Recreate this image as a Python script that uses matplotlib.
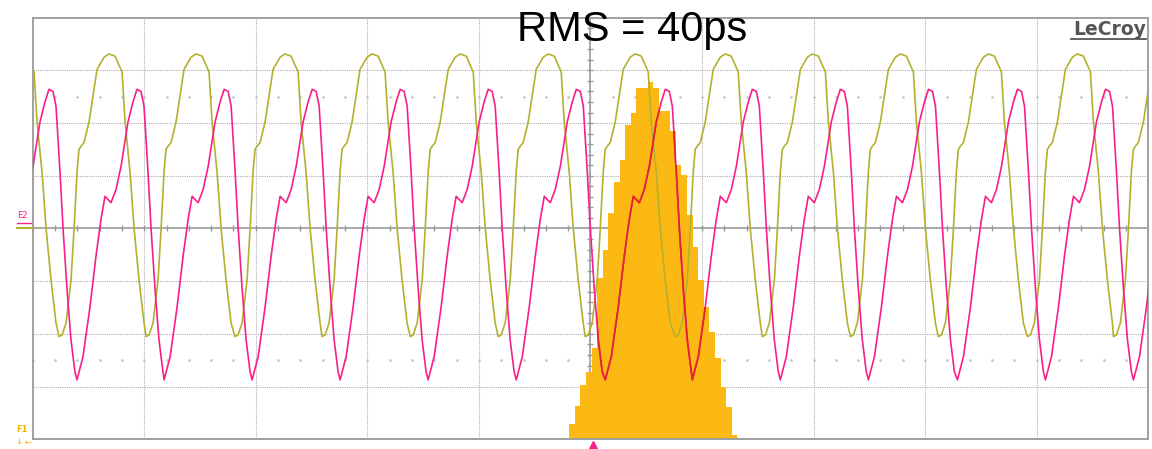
import numpy as np
import matplotlib
matplotlib.use('Agg')
import matplotlib.pyplot as plt
from matplotlib.lines import Line2D

# Screen units: time in divisions (0..10), voltage in divisions (-4..4)

# olive channel: position of each trough, plus one cycle's shape
olive_troughs = [-0.553, 0.236, 1.016, 1.814, 2.594, 3.384, 4.173, 4.953,
                 5.760, 6.541, 7.330, 8.119, 8.917, 9.688]
olive_cycle_t = [0.000, 0.027, 0.063, 0.108, 0.135, 0.161, 0.179, 0.197, 0.224, 0.269,
                 0.341, 0.404, 0.448, 0.502, 0.565, 0.592, 0.637, 0.673, 0.717, 0.762]
olive_cycle_v = [-2.05, -2.02, -1.79, -0.97, 0.00, 1.06, 1.50, 1.56, 1.63, 2.02,
                 3.02, 3.25, 3.31, 3.27, 2.97, 2.02, 1.06, 0.00, -0.97, -1.79]

# magenta channel
magenta_troughs = [-0.392, 0.397, 1.178, 1.967, 2.756, 3.545, 4.335, 5.133,
                   5.913, 6.702, 7.492, 8.290, 9.079, 9.868]
magenta_cycle_t = [0.000, 0.054, 0.117, 0.170, 0.215, 0.251, 0.278, 0.305, 0.350, 0.395,
                   0.457, 0.502, 0.538, 0.574, 0.601, 0.637, 0.664, 0.700, 0.735, 0.771]
magenta_cycle_v = [-2.87, -2.43, -1.48, -0.53, 0.17, 0.61, 0.55, 0.49, 0.74, 1.18,
                   2.02, 2.40, 2.64, 2.60, 2.32, 1.06, 0.00, -1.16, -2.11, -2.72]

# jitter histogram (bar heights in divisions above the bottom of the screen)
hist_heights = [0.30, 0.63, 1.03, 1.27, 1.73, 3.06, 3.59, 4.30, 4.89, 5.30,
                5.97, 6.20, 6.67, 6.67, 6.77, 6.67, 6.22, 6.22, 5.84, 5.21,
                5.02, 4.26, 3.65, 3.02, 2.51, 2.03, 1.54, 0.99, 0.61, 0.08]
hist_start, hist_stop = 4.810, 6.317

OLIVE = '#b3b12e'
MAGENTA = '#f81f88'
RED = '#e5232b'
ORANGE = '#fdb913'
GRID = '#b0b0b0'


def build_trace(troughs, cycle_t, cycle_v):
    """ Put one cycle after each trough. """
    t = np.concatenate([tr + np.array(cycle_t) for tr in troughs])
    v = np.tile(cycle_v, len(troughs))
    return t, v


W, H = 1152, 449
fig = plt.figure(figsize=(W / 100, H / 100), dpi=100)
ax = fig.add_axes([32.7 / W, 1 - 439.4 / H, 1115.5 / W, 421.8 / H])
ax.set_xlim(0, 10)
ax.set_ylim(-4, 4)
ax.set_xticks([])
ax.set_yticks([])
for s in ax.spines.values():
    s.set_color('#a0a0a0')
    s.set_linewidth(1.4)

# graticule
for x in range(1, 10):
    if x != 5:
        ax.axvline(x, color=GRID, lw=0.8, ls=(0, (1, 1)), zorder=0)
for y in range(-3, 4):
    if y != 0:
        ax.axhline(y, color=GRID, lw=0.8, ls=(0, (1, 1)), zorder=0)
ax.axhline(0, color='#9a9a9a', lw=1.2, zorder=0)
ax.axvline(5, color='#9a9a9a', lw=1.2, zorder=0)
minor_x = np.arange(0, 10.01, 0.2)
minor_y = np.arange(-4, 4.01, 0.2)
ax.plot(minor_x, np.zeros_like(minor_x), ls='none', marker='|', ms=5,
        mew=1, color='#9a9a9a', zorder=0)
ax.plot(np.full_like(minor_y, 5), minor_y, ls='none', marker='_', ms=5,
        mew=1, color='#9a9a9a', zorder=0)
for yd in (2.5, -2.5):
    ax.plot(minor_x, np.full_like(minor_x, yd), ls='none', marker='s', ms=0.8,
            color='#c4c4c4', zorder=0)

# histogram
edges = np.linspace(hist_start, hist_stop, len(hist_heights) + 1)
hist = ax.stairs(np.array(hist_heights) - 4, edges, baseline=-4, fill=True,
                 color=ORANGE, zorder=1)

# traces
ot, ov = build_trace(olive_troughs, olive_cycle_t, olive_cycle_v)
mt, mv = build_trace(magenta_troughs, magenta_cycle_t, magenta_cycle_v)
ax.plot(ot, ov, color=OLIVE, lw=1.2, zorder=3)
ax.plot(mt, mv, color=MAGENTA, lw=1.2, zorder=4)
red = ax.plot(mt, mv, color=RED, lw=1.2, zorder=5)[0]
red.set_clip_path(hist)

# trigger marker
ax.plot([5.02], [-4.1], marker='^', ms=6, color=MAGENTA, clip_on=False, zorder=6)

# side labels
fig.text(22 / W, 1 - 216 / H, 'E2', color=MAGENTA, fontsize=6, ha='center', va='center')
fig.add_artist(Line2D([17 / W, 31 / W], [1 - 223 / H] * 2, color=MAGENTA, lw=1))
fig.add_artist(Line2D([17 / W, 32 / W], [1 - 228 / H] * 2, color=OLIVE, lw=1.5))
fig.text(22 / W, 1 - 430 / H, 'F1', color='#f5b400', fontsize=6, fontweight='bold',
         ha='center', va='center')
fig.text(19 / W, 1 - 441 / H, '\u2193', color='#f5b400', fontsize=6, ha='center', va='center')
fig.text(28 / W, 1 - 442 / H, '\u2190', color='#f5b400', fontsize=6, ha='center', va='center')

# titles
fig.text(517 / W, 1 - 41 / H, 'RMS = 40ps', fontsize=30, family='Liberation Sans',
         color='black', ha='left', va='baseline', zorder=10)
fig.text(1146 / W, 1 - 35 / H, 'LeCroy', fontsize=13.5, fontweight='bold',
         family='DejaVu Sans', color='#555555', ha='right', va='baseline')
fig.add_artist(Line2D([1071 / W, 1146 / W], [1 - 38.5 / H] * 2, color='#555555', lw=1.3))

fig.savefig('out.png', dpi=100)
